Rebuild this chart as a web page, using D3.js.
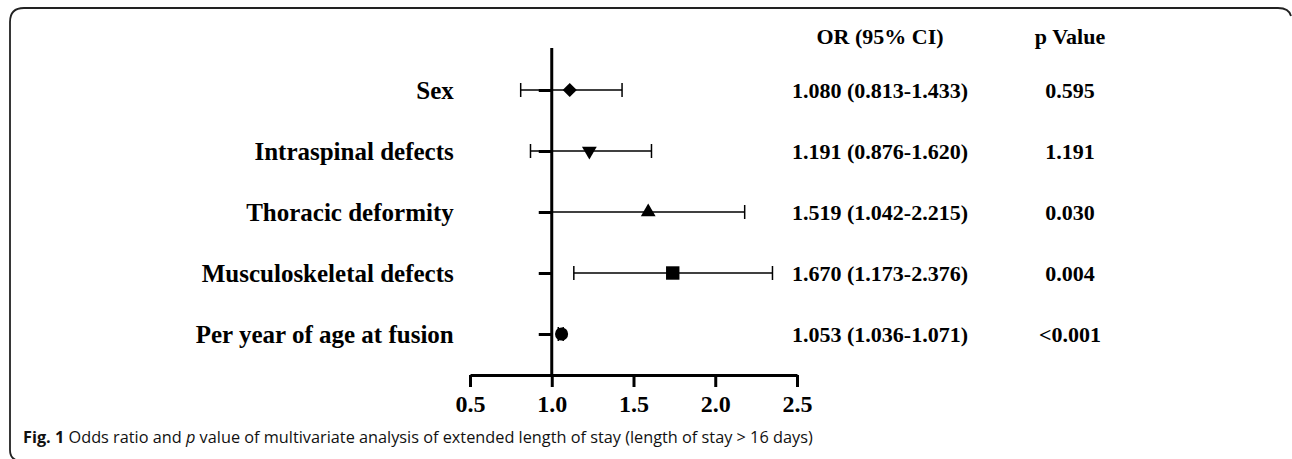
<!DOCTYPE html>
<html>
<head>
<meta charset="utf-8">
<script src="https://cdn.jsdelivr.net/npm/d3@7"></script>
<style>
  body { margin: 0; background: #fff; }
  svg { display: block; }
  .serif { font-family: "Liberation Serif", "Times New Roman", serif; font-weight: bold; fill: #000; }
  .caption { font-family: "Open Sans", "Noto Sans", sans-serif; fill: #111; }
</style>
</head>
<body>
<div id="chart"></div>
<script>
// rows of the forest plot, top to bottom
var labels = ["Sex", "Intraspinal defects", "Thoracic deformity", "Musculoskeletal defects", "Per year of age at fusion"];
// values as they are plotted
var orPoint = [1.11, 1.23, 1.59, 1.74, 1.06];
var ciLow = [0.81, 0.87, 1.0, 1.135, 1.04];
var ciHigh = [1.43, 1.61, 2.18, 2.35, 1.07];
// table text
var orText = ["1.080 (0.813-1.433)", "1.191 (0.876-1.620)", "1.519 (1.042-2.215)", "1.670 (1.173-2.376)", "1.053 (1.036-1.071)"];
var pText = ["0.595", "1.191", "0.030", "0.004", "<0.001"];
var xTicks = [0.5, 1.0, 1.5, 2.0, 2.5];
var markerKind = ["diamond", "down", "up", "square", "circle"];

var W = 1292, H = 459;

var svg = d3.select('#chart').append('svg')
    .attr('width', W)
    .attr('height', H);

// rounded frame (only partly visible, as in the source)
svg.append('path')
    .attr('d', 'M20,461 Q10,460 10,450 L10,22 Q10,8 24,8 L1278,8 Q1289,8 1291,16')
    .attr('fill', 'none')
    .attr('stroke', '#222')
    .attr('stroke-width', 1.8);

var x = d3.scaleLinear().domain([0.5, 2.5]).range([470, 797]);
var y = d3.scalePoint().domain(labels).range([90, 334]);

var axisTop = 48, axisY = 375;

// x axis
var gx = svg.append('g')
    .attr('transform', 'translate(0,' + axisY + ')')
    .call(d3.axisBottom(x).tickValues(xTicks).tickFormat(d3.format('.1f')).tickSize(12).tickPadding(8).tickSizeOuter(0));
gx.select('.domain').attr('stroke-width', 3).attr('stroke', '#000');
gx.selectAll('.tick line').attr('stroke-width', 3).attr('stroke', '#000');
gx.selectAll('.tick text').attr('class', 'serif').style('font-size', '24px');

// y axis at OR = 1
var gy = svg.append('g')
    .attr('transform', 'translate(' + x(1) + ',0)')
    .call(d3.axisLeft(y).tickSize(13).tickPadding(85));
gy.select('.domain').remove();
gy.selectAll('.tick line').attr('stroke-width', 3).attr('stroke', '#000');
gy.selectAll('.tick text').attr('class', 'serif').style('font-size', '25px');
svg.append('line')
    .attr('x1', x(1)).attr('x2', x(1))
    .attr('y1', axisTop).attr('y2', axisY + 1.5)
    .attr('stroke', '#000')
    .attr('stroke-width', 3);

// error bars
var rows = labels.map(function (d, i) {
    return {label: d, or: orPoint[i], lo: ciLow[i], hi: ciHigh[i], kind: markerKind[i]};
});
var bars = svg.append('g').selectAll('g')
    .data(rows)
    .enter().append('g');
bars.append('line')
    .attr('x1', function (d) { return x(d.lo); })
    .attr('x2', function (d) { return x(d.hi); })
    .attr('y1', function (d) { return y(d.label); })
    .attr('y2', function (d) { return y(d.label); })
    .attr('stroke', '#000').attr('stroke-width', 1.5);
[ 'lo', 'hi' ].forEach(function (k) {
    bars.append('line')
        .attr('x1', function (d) { return x(d[k]); })
        .attr('x2', function (d) { return x(d[k]); })
        .attr('y1', function (d) { return y(d.label) - 7; })
        .attr('y2', function (d) { return y(d.label) + 7; })
        .attr('stroke', '#000').attr('stroke-width', 1.5);
});

// markers
var symGen = {
    diamond: d3.symbol().type(d3.symbolSquare).size(100),
    down: d3.symbol().type(d3.symbolTriangle).size(95),
    up: d3.symbol().type(d3.symbolTriangle).size(95),
    square: d3.symbol().type(d3.symbolSquare).size(180),
    circle: d3.symbol().type(d3.symbolCircle).size(135)
};
var rot = {diamond: 45, down: 180, up: 0, square: 0, circle: 0};
bars.append('path')
    .attr('d', function (d) { return symGen[d.kind](); })
    .attr('transform', function (d) {
        return 'translate(' + x(d.or) + ',' + y(d.label) + ') rotate(' + rot[d.kind] + ')';
    })
    .attr('fill', '#000');

// table columns
var orX = 880, pX = 1070;
svg.append('text').attr('class', 'serif')
    .attr('x', orX).attr('y', 36).attr('dy', '0.35em')
    .attr('text-anchor', 'middle').style('font-size', '22px')
    .text('OR (95% CI)');
svg.append('text').attr('class', 'serif')
    .attr('x', pX).attr('y', 36).attr('dy', '0.35em')
    .attr('text-anchor', 'middle').style('font-size', '22px')
    .text('p Value');
svg.append('g').selectAll('text')
    .data(orText)
    .enter().append('text')
    .attr('class', 'serif')
    .attr('x', orX)
    .attr('y', function (d, i) { return y(labels[i]); })
    .attr('dy', '0.35em')
    .attr('text-anchor', 'middle')
    .style('font-size', '22px')
    .text(function (d) { return d; });
svg.append('g').selectAll('text')
    .data(pText)
    .enter().append('text')
    .attr('class', 'serif')
    .attr('x', pX)
    .attr('y', function (d, i) { return y(labels[i]); })
    .attr('dy', '0.35em')
    .attr('text-anchor', 'middle')
    .style('font-size', '22px')
    .text(function (d) { return d; });

// caption
var cap = svg.append('text')
    .attr('class', 'caption')
    .attr('x', 23).attr('y', 443)
    .style('font-size', '16.3px');
cap.append('tspan').style('font-weight', 'bold').text('Fig. 1');
cap.append('tspan').text(' Odds ratio and ');
cap.append('tspan').style('font-style', 'italic').text('p');
cap.append('tspan').text(' value of multivariate analysis of extended length of stay (length of stay > 16 days)');
</script>
</body>
</html>
